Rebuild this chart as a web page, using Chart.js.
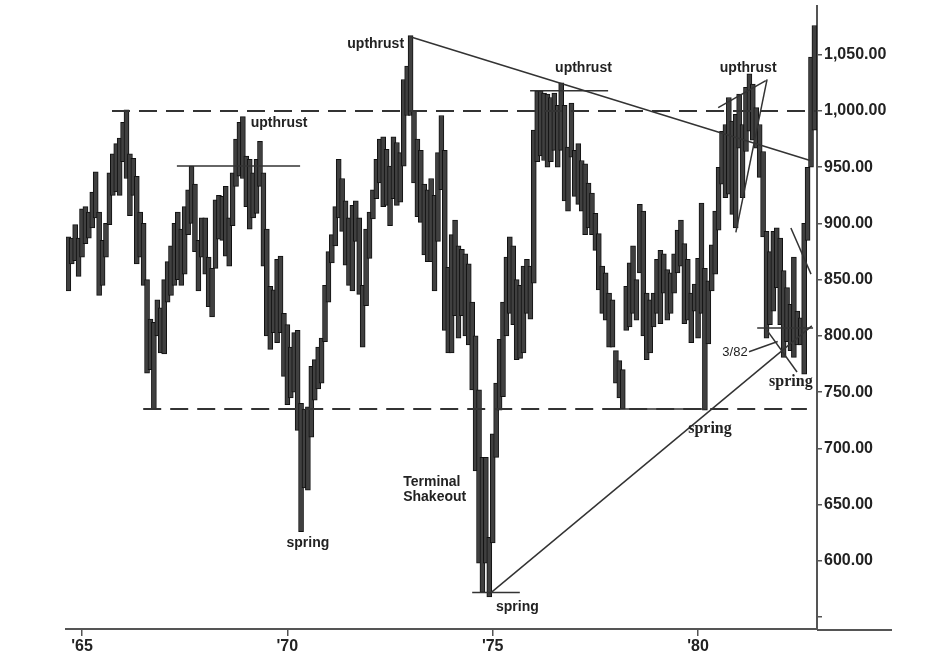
<!DOCTYPE html>
<html>
<head>
<meta charset="utf-8">
<script src="https://cdn.jsdelivr.net/npm/chart.js@4.4.1/dist/chart.umd.min.js"></script>
<style>
  html, body { margin: 0; padding: 0; background: #fff; }
  canvas { display: block; }
</style>
</head>
<body>
<canvas id="chart" width="932" height="666"></canvas>
<script>
// monthly bars, first one is Sep 1964
const firstYear = 1964;
const firstMonth = 9;

const highs = [
  888, 887, 899, 887,                                                // 1964
  913, 915, 910, 928, 946, 910, 885, 900, 945, 962, 971, 976,        // 1965
  990, 1001, 962, 958, 942, 910, 900, 850, 815, 812, 832, 825,       // 1966
  850, 866, 880, 900, 910, 895, 915, 930, 951, 935, 885, 905,        // 1967
  905, 870, 860, 921, 925, 924, 933, 905, 945, 975, 990, 995,        // 1968
  960, 957, 945, 957, 973, 945, 895, 844, 841, 868, 871, 820,        // 1969
  810, 790, 803, 805, 740, 735, 737, 773, 779, 790, 798, 845,        // 1970
  875, 890, 915, 957, 940, 920, 905, 916, 920, 905, 845, 895,        // 1971
  910, 930, 957, 975, 977, 966, 951, 977, 972, 963, 1028, 1040,      // 1972
  1067, 1000, 975, 965, 935, 930, 940, 925, 963, 996, 965, 861,      // 1973
  890, 903, 880, 877, 873, 864, 830, 800, 752, 692, 692, 621,        // 1974
  713, 758, 797, 830, 870, 888, 880, 850, 845, 862, 868, 862,        // 1975
  983, 1018, 1018, 1016, 1015, 1012, 1016, 1005, 1025, 1005, 968, 1007, // 1976
  965, 971, 956, 953, 936, 927, 909, 891, 862, 856, 838, 832,        // 1977
  787, 778, 770, 844, 865, 880, 850, 917, 911, 838, 832, 838,        // 1978
  868, 876, 873, 859, 856, 873, 894, 903, 882, 868, 838, 846,        // 1979
  869, 918, 860, 849, 881, 911, 950, 982, 988, 1012, 991, 997,       // 1980
  1015, 988, 1021, 1033, 1024, 1003, 988, 964, 893, 875, 893, 896,   // 1981
  887, 858, 843, 828, 870, 822, 816, 900, 950, 1048, 1076            // 1982
];

const lows = [
  840, 864, 867, 853,                                                // 1964
  870, 882, 887, 896, 905, 836, 845, 870, 899, 925, 928, 925,        // 1965
  955, 940, 907, 925, 864, 870, 845, 767, 770, 735, 800, 785,        // 1966
  784, 830, 836, 845, 850, 845, 855, 890, 900, 875, 840, 870,        // 1967
  855, 826, 817, 860, 886, 885, 871, 862, 898, 933, 942, 940,        // 1968
  915, 895, 905, 909, 933, 862, 800, 788, 803, 794, 803, 764,        // 1969
  739, 745, 750, 716, 626, 665, 663, 710, 743, 753, 758, 795,        // 1970
  830, 865, 880, 905, 893, 863, 845, 840, 884, 837, 790, 827,        // 1971
  869, 904, 922, 936, 915, 916, 898, 922, 916, 919, 951, 996,        // 1972
  996, 936, 906, 901, 872, 866, 866, 840, 884, 930, 805, 785,        // 1973
  785, 818, 798, 818, 800, 792, 752, 680, 598, 572, 598, 568,        // 1974
  616, 692, 734, 746, 800, 820, 810, 779, 780, 785, 820, 815,        // 1975
  847, 955, 960, 956, 950, 955, 965, 950, 965, 920, 911, 959,        // 1976
  924, 917, 911, 890, 896, 890, 876, 841, 820, 814, 790, 790,        // 1977
  758, 745, 735, 805, 808, 820, 814, 856, 800, 779, 785, 808,        // 1978
  820, 811, 838, 814, 820, 838, 856, 862, 811, 814, 794, 822,        // 1979
  798, 820, 734, 793, 840, 855, 894, 935, 923, 926, 908, 896,        // 1980
  967, 923, 964, 982, 974, 967, 941, 888, 798, 810, 822, 843,        // 1981
  810, 781, 795, 787, 781, 792, 792, 766, 885, 950, 983              // 1982
];

const yearTicks = [1965, 1970, 1975, 1980];
const priceTicks = [550, 600, 650, 700, 750, 800, 850, 900, 950, 1000, 1050];

// drawn lines, [year, price] at each end
const refLines = [
  { from: [1965.73, 1000], to: [1982.88, 1000], dash: true },
  { from: [1966.49, 735], to: [1982.65, 735], dash: true },
  { from: [1978.05, 735], to: [1980.15, 735] },
  { from: [1967.31, 951], to: [1970.31, 951] },
  { from: [1972.99, 1066], to: [1982.73, 956] },
  { from: [1975.91, 1018], to: [1977.81, 1018] },
  { from: [1974.50, 572], to: [1975.66, 572] },
  { from: [1974.93, 571], to: [1982.77, 809] },
  { from: [1980.49, 1003], to: [1981.65, 1027] },
  { from: [1980.92, 892], to: [1981.68, 1028] },
  { from: [1982.26, 896], to: [1982.75, 855] },
  { from: [1981.44, 807], to: [1982.80, 807] },
  { from: [1981.24, 786], to: [1981.94, 795] },
  { from: [1981.68, 805], to: [1982.41, 768] }
];

const notes = [
  { text: 'upthrust', at: [1972.15, 1059] },
  { text: 'upthrust', at: [1969.80, 989] },
  { text: 'upthrust', at: [1977.21, 1038] },
  { text: 'upthrust', at: [1981.22, 1038] },
  { text: 'spring', at: [1970.50, 616] },
  { text: 'Terminal', at: [1972.82, 670], align: 'left' },
  { text: 'Shakeout', at: [1972.82, 657], align: 'left' },
  { text: 'spring', at: [1975.60, 559] },
  { text: 'spring', at: [1980.29, 717], serif: true },
  { text: 'spring', at: [1982.26, 759], serif: true },
  { text: '3/82', at: [1980.90, 785], plain: true }
];

const sans = "Arial, 'Liberation Sans', sans-serif";
const serif = "'Times New Roman', 'Liberation Serif', serif";

const bars = highs.map((h, i) => ({
  x: firstYear + (firstMonth - 1 + i) / 12,
  y: [lows[i], h]
}));

function fmtPrice(v) {
  const s = v >= 1000 ? Math.floor(v / 1000) + ',' + String(v % 1000).padStart(3, '0') : String(v);
  return s + '.00';
}

// keep the plot box fixed, no label overhang padding
function noPad(s) {
  s.paddingTop = 0;
  s.paddingBottom = 0;
  s.paddingLeft = 0;
  s.paddingRight = 0;
}

const markup = {
  id: 'markup',
  afterDatasetsDraw(chart) {
    const { ctx, scales } = chart;
    const px = p => [scales.x.getPixelForValue(p[0]), scales.y.getPixelForValue(p[1])];
    ctx.save();
    ctx.strokeStyle = '#333';
    refLines.forEach(l => {
      const a = px(l.from), b = px(l.to);
      ctx.lineWidth = l.dash ? 2 : 1.5;
      ctx.setLineDash(l.dash ? [18, 9] : []);
      ctx.beginPath();
      ctx.moveTo(a[0], a[1]);
      ctx.lineTo(b[0], b[1]);
      ctx.stroke();
    });
    ctx.setLineDash([]);
    ctx.fillStyle = '#222';
    ctx.textBaseline = 'middle';
    notes.forEach(n => {
      const p = px(n.at);
      if (n.serif) ctx.font = 'bold 16px ' + serif;
      else if (n.plain) ctx.font = '13px ' + sans;
      else ctx.font = 'bold 14px ' + sans;
      ctx.textAlign = n.align || 'center';
      ctx.fillText(n.text, p[0], p[1]);
    });
    ctx.restore();
  },
  afterDraw(chart) {
    // bottom axis line runs on under the price labels
    const { ctx, chartArea } = chart;
    ctx.save();
    ctx.strokeStyle = '#555';
    ctx.lineWidth = 2;
    ctx.beginPath();
    ctx.moveTo(chartArea.right, chartArea.bottom + 1);
    ctx.lineTo(892, chartArea.bottom + 1);
    ctx.stroke();
    ctx.restore();
  }
};

new Chart(document.getElementById('chart').getContext('2d'), {
  type: 'bar',
  data: {
    datasets: [{
      data: bars,
      backgroundColor: '#404040',
      borderColor: '#111',
      borderWidth: 1,
      borderSkipped: false,
      barThickness: 5
    }]
  },
  options: {
    responsive: false,
    animation: false,
    devicePixelRatio: 1,
    layout: { padding: { left: 66, top: 6, right: 0, bottom: 0 } },
    plugins: {
      legend: { display: false },
      tooltip: { enabled: false }
    },
    scales: {
      x: {
        type: 'linear',
        min: 1964.61,
        max: 1982.896,
        offset: false,
        grid: { display: true, drawOnChartArea: false, drawTicks: true, tickLength: 7, color: '#555', lineWidth: 1.5, offset: false },
        border: { display: true, color: '#555', width: 2 },
        afterBuildTicks: s => { s.ticks = yearTicks.map(v => ({ value: v })); },
        afterFit: s => { s.height = 37; noPad(s); },
        ticks: {
          autoSkip: false,
          maxRotation: 0,
          padding: 1,
          color: '#222',
          font: { family: sans, size: 16, weight: 'bold' },
          callback: v => "'" + String(v).slice(2)
        }
      },
      y: {
        position: 'right',
        min: 539.5,
        max: 1093.3,
        grid: { display: true, drawOnChartArea: false, drawTicks: true, tickLength: 5, color: '#555', lineWidth: 1.5 },
        border: { display: true, color: '#555', width: 2 },
        afterBuildTicks: s => { s.ticks = priceTicks.map(v => ({ value: v })); },
        afterFit: s => { s.width = 115; noPad(s); },
        ticks: {
          padding: 2,
          color: '#222',
          font: { family: sans, size: 16, weight: 'bold' },
          callback: v => v === 550 ? '' : fmtPrice(v)
        }
      }
    }
  },
  plugins: [markup]
});
</script>
</body>
</html>
